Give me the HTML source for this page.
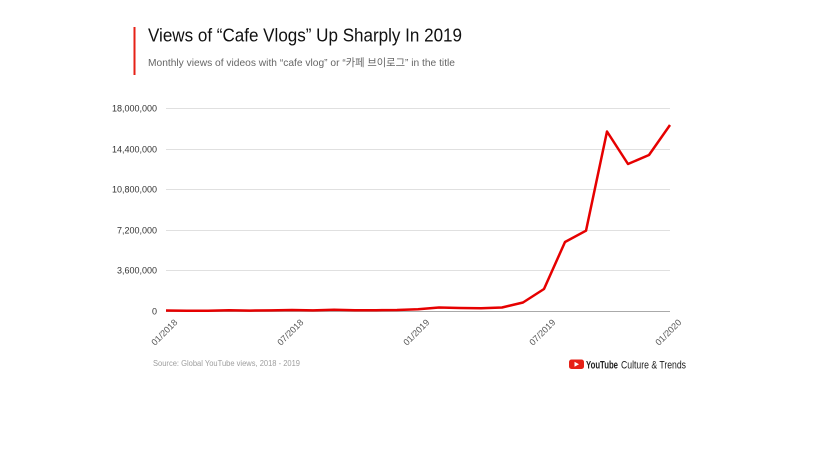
<!DOCTYPE html>
<html><head><meta charset="utf-8"><style>
html,body{margin:0;padding:0;background:#fff;}
svg{display:block;}
text{font-family:"Liberation Sans","Noto Sans CJK KR",sans-serif;}
</style></head><body>
<svg width="840" height="472" viewBox="0 0 840 472" xmlns="http://www.w3.org/2000/svg">
<rect x="0" y="0" width="840" height="472" fill="#fff"/>
<rect x="133.5" y="27" width="2" height="48" fill="#e62117"/>
<text x="148" y="41.5" font-size="18" fill="#111" textLength="314" lengthAdjust="spacingAndGlyphs">Views of “Cafe Vlogs” Up Sharply In 2019</text>
<text x="148" y="66" font-size="10.5" fill="#666" textLength="307" lengthAdjust="spacingAndGlyphs">Monthly views of videos with “cafe vlog” or “카페 브이로그” in the title</text>
<g stroke="#e0e0e0" stroke-width="1">
<line x1="166" y1="108.5" x2="670" y2="108.5"/>
<line x1="166" y1="149.5" x2="670" y2="149.5"/>
<line x1="166" y1="189.5" x2="670" y2="189.5"/>
<line x1="166" y1="230.5" x2="670" y2="230.5"/>
<line x1="166" y1="270.5" x2="670" y2="270.5"/>
</g>
<line x1="166" y1="311.5" x2="670" y2="311.5" stroke="#aaa" stroke-width="1"/>
<g font-size="9" fill="#333" text-anchor="end">
<text x="157" y="111.5">18,000,000</text>
<text x="157" y="152.5">14,400,000</text>
<text x="157" y="192.5">10,800,000</text>
<text x="157" y="233.5">7,200,000</text>
<text x="157" y="273.5">3,600,000</text>
<text x="157" y="314.5">0</text>
</g>
<g font-size="9" fill="#555" text-anchor="end">
<text transform="translate(178,323) rotate(-45)">01/2018</text>
<text transform="translate(304,323) rotate(-45)">07/2018</text>
<text transform="translate(430,323) rotate(-45)">01/2019</text>
<text transform="translate(556,323) rotate(-45)">07/2019</text>
<text transform="translate(682,323) rotate(-45)">01/2020</text>
</g>
<polyline fill="none" stroke="#e60000" stroke-width="2.5" stroke-linejoin="round" points="166,310.5 187,310.8 208,310.8 229,310.3 250,310.6 271,310.4 292,310 313,310.4 334,309.8 355,310.2 376,310.2 397,310 418,309.3 439,307.5 460,308 481,308.2 502,307.5 523,302.5 544,289 565,242 586,230.7 607,131.5 628,164 649,155 670,125"/>
<text x="153" y="366" font-size="8" fill="#9e9e9e" textLength="147" lengthAdjust="spacingAndGlyphs">Source: Global YouTube views, 2018 - 2019</text>
<rect x="569" y="359.5" width="15" height="9.5" rx="2.5" fill="#e62117"/>
<polygon points="574.5,361.8 574.5,366.7 579,364.25" fill="#fff"/>
<text x="586" y="368.5" font-size="11" font-weight="bold" fill="#212121" textLength="32" lengthAdjust="spacingAndGlyphs">YouTube</text>
<text x="621" y="368.5" font-size="11" fill="#212121" textLength="65" lengthAdjust="spacingAndGlyphs">Culture &amp; Trends</text>
</svg>
</body></html>
